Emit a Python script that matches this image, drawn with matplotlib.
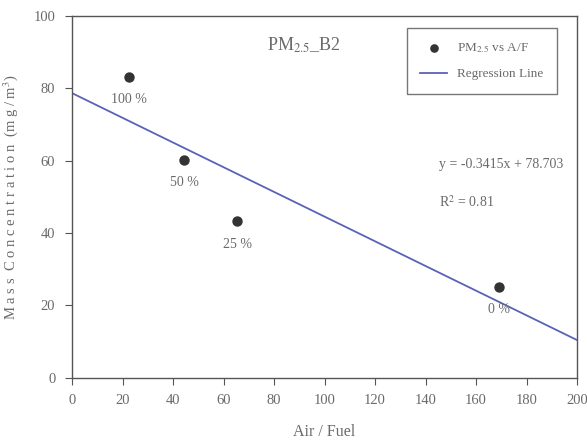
import matplotlib
matplotlib.use("Agg")
import matplotlib.pyplot as plt
import numpy as np

# data
air_fuel = [22.5, 44.5, 65.5, 169.0]
pm25 = [83.2, 60.2, 43.2, 25.2]
blend_labels = ["100 %", "50 %", "25 %", "0 %"]
slope, intercept = -0.3415, 78.703
r2 = 0.81

plt.rcParams["font.family"] = ["Liberation Serif", "DejaVu Serif"]
plt.rcParams["mathtext.fontset"] = "stix"
TXT = "#6a6a6a"
EDGE = "#555555"

fig = plt.figure(figsize=(5.87, 4.48), dpi=100)
ax = fig.add_axes([0.1227, 0.157, 0.8603, 0.807])

ax.scatter(air_fuel, pm25, s=42, color="#333333", zorder=3,
           label=r"PM$_{2.5}$ vs A/F")
xs = np.array([0, 200])
ax.plot(xs, slope * xs + intercept, color="#5a62b8", lw=1.3,
        label="Regression Line")

# blend labels just below each point
for x, y, lab in zip(air_fuel, pm25, blend_labels):
    ax.annotate(lab, (x, y), textcoords="offset points", xytext=(0, -19),
                ha="center", fontsize=10, color=TXT)

ax.text(92, 92, r"PM$_{2.5}$_B2", ha="center", va="center",
        fontsize=13, color=TXT)
ax.text(145.5, 59, f"y = {slope}x + {intercept}", fontsize=10, color=TXT,
        va="center")
ax.text(145.5, 48.5, f"R$^2$ = {r2}", fontsize=10, color=TXT, va="center")

ax.set_xlim(0, 200)
ax.set_ylim(0, 100)
ax.set_xticks(np.arange(0, 201, 20))
ax.set_yticks(np.arange(0, 101, 20))
ax.tick_params(direction="out", length=5, colors=EDGE, labelcolor=TXT,
               labelsize=10.5, top=False, right=False, pad=7)
for sp in ax.spines.values():
    sp.set_color(EDGE)
    sp.set_linewidth(1.0)

ax.set_xlabel("Air / Fuel", fontsize=11.5, color=TXT, labelpad=12)
ax.set_ylabel(r"M a s s  C o n c e n t r a t i o n  (m g / m$^3$)",
              fontsize=10.5, color=TXT, labelpad=10)

leg = ax.legend(loc="upper right", bbox_to_anchor=(0.960, 0.967),
                borderaxespad=0, fontsize=9.5, frameon=True, fancybox=False,
                edgecolor=EDGE, labelcolor=TXT, handlelength=2.0,
                borderpad=1.0, labelspacing=1.0, markerscale=0.8)
leg.get_frame().set_linewidth(1.0)

fig.savefig("out.png", dpi=100)
